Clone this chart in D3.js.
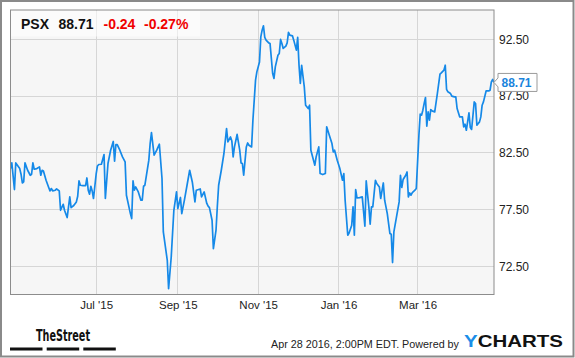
<!DOCTYPE html>
<html><head><meta charset="utf-8">
<script src="https://cdn.jsdelivr.net/npm/d3@7"></script>
<style>html,body{margin:0;padding:0;background:#fff;}svg{display:block;}</style>
</head><body>
<script>
const symbol = "PSX";
const lastPrice = "88.71";
const change = "-0.24";
const changePct = "-0.27%";
const timestamp = "Apr 28 2016, 2:00PM EDT.  Powered by";

const dates = [
"2015-04-27","2015-04-28","2015-04-30","2015-05-01","2015-05-04","2015-05-05","2015-05-06","2015-05-07","2015-05-08","2015-05-10",
"2015-05-12","2015-05-13","2015-05-14","2015-05-15","2015-05-17","2015-05-19","2015-05-20","2015-05-21","2015-05-22","2015-05-24",
"2015-05-26","2015-05-27","2015-05-28","2015-05-29","2015-05-31","2015-06-01","2015-06-03","2015-06-04","2015-06-06","2015-06-07",
"2015-06-09","2015-06-11","2015-06-12","2015-06-14","2015-06-16","2015-06-17","2015-06-18","2015-06-19","2015-06-21","2015-06-23",
"2015-06-24","2015-06-25","2015-06-26","2015-06-27","2015-06-28","2015-06-29","2015-07-01","2015-07-02","2015-07-03","2015-07-05",
"2015-07-07","2015-07-08","2015-07-10","2015-07-12","2015-07-14","2015-07-15","2015-07-16","2015-07-17","2015-07-19","2015-07-21",
"2015-07-23","2015-07-24","2015-07-27","2015-07-28","2015-07-29","2015-07-30","2015-07-31","2015-08-02","2015-08-04","2015-08-05",
"2015-08-06","2015-08-07","2015-08-10","2015-08-11","2015-08-12","2015-08-14","2015-08-16","2015-08-18","2015-08-20","2015-08-21",
"2015-08-24","2015-08-25","2015-08-27","2015-08-29","2015-08-31","2015-09-01","2015-09-03","2015-09-04","2015-09-06","2015-09-08",
"2015-09-10","2015-09-12","2015-09-14","2015-09-15","2015-09-18","2015-09-19","2015-09-21","2015-09-23","2015-09-24","2015-09-25",
"2015-09-27","2015-09-28","2015-09-30","2015-10-01","2015-10-02","2015-10-04","2015-10-06","2015-10-08","2015-10-09","2015-10-11",
"2015-10-12","2015-10-13","2015-10-14","2015-10-16","2015-10-18","2015-10-19","2015-10-20","2015-10-21","2015-10-23","2015-10-24",
"2015-10-25","2015-10-27","2015-10-28","2015-10-30","2015-10-31","2015-11-02","2015-11-03","2015-11-04","2015-11-05","2015-11-06",
"2015-11-07","2015-11-09","2015-11-10","2015-11-12","2015-11-13","2015-11-14","2015-11-16","2015-11-17","2015-11-18","2015-11-19",
"2015-11-20","2015-11-22","2015-11-23","2015-11-24","2015-11-25","2015-11-27","2015-11-28","2015-11-30","2015-12-01","2015-12-02",
"2015-12-03","2015-12-04","2015-12-06","2015-12-07","2015-12-09","2015-12-10","2015-12-11","2015-12-13","2015-12-14","2015-12-15",
"2015-12-17","2015-12-18","2015-12-20","2015-12-22","2015-12-23","2015-12-25","2015-12-27","2015-12-28","2015-12-29","2015-12-31",
"2016-01-02","2016-01-04","2016-01-05","2016-01-06","2016-01-08","2016-01-09","2016-01-11","2016-01-12","2016-01-13","2016-01-14",
"2016-01-15","2016-01-17","2016-01-19","2016-01-21","2016-01-22","2016-01-24","2016-01-25","2016-01-26","2016-01-27","2016-01-29",
"2016-01-30","2016-02-01","2016-02-02","2016-02-04","2016-02-05","2016-02-07","2016-02-09","2016-02-10","2016-02-11","2016-02-12",
"2016-02-14","2016-02-16","2016-02-17","2016-02-18","2016-02-19","2016-02-21","2016-02-22","2016-02-23","2016-02-24","2016-02-25",
"2016-02-26","2016-02-28","2016-02-29","2016-03-02","2016-03-03","2016-03-04","2016-03-05","2016-03-06","2016-03-07","2016-03-08",
"2016-03-09","2016-03-10","2016-03-11","2016-03-12","2016-03-14","2016-03-16","2016-03-18","2016-03-19","2016-03-21","2016-03-22",
"2016-03-23","2016-03-24","2016-03-26","2016-03-27","2016-03-29","2016-03-30","2016-03-31","2016-04-02","2016-04-04","2016-04-05",
"2016-04-06","2016-04-07","2016-04-09","2016-04-10","2016-04-11","2016-04-13","2016-04-14","2016-04-15","2016-04-17","2016-04-18",
"2016-04-19","2016-04-20","2016-04-22","2016-04-24","2016-04-25","2016-04-26","2016-04-27","2016-04-28"
];
const prices = [
81.11,81.61,79.26,81.61,81.11,80.61,79.84,79.93,81.61,80.96,
80.52,80.61,81.61,81.05,81.11,81.26,80.52,80.96,80.90,80.08,
79.44,79.14,79.35,79.14,79.20,79.31,79.14,77.43,77.96,77.43,
76.79,78.61,77.67,77.85,78.17,78.67,80.02,79.64,79.61,79.61,
80.28,79.20,78.85,79.55,79.14,78.47,80.61,81.34,81.47,81.49,
82.35,78.47,81.56,82.73,83.50,81.76,83.23,83.23,82.73,82.14,
81.70,78.76,77.14,76.70,80.02,79.20,79.49,79.05,78.32,78.32,
79.55,79.64,81.85,83.32,84.29,82.29,82.73,83.26,80.23,75.52,
73.02,70.52,73.31,77.43,79.05,77.58,78.56,77.14,78.32,79.64,
80.96,79.93,78.17,79.20,79.31,78.61,79.05,78.03,77.79,77.67,
76.55,74.05,75.67,77.79,79.64,80.96,82.44,84.64,83.46,83.90,
83.55,82.14,83.02,84.12,82.73,81.61,81.56,80.52,83.02,83.37,
83.17,83.02,85.38,88.91,89.64,90.52,92.73,93.32,93.70,92.68,
92.44,92.20,92.15,89.50,89.06,90.08,91.11,91.26,92.50,92.15,
91.71,91.91,92.20,93.12,92.88,92.82,92.44,91.56,92.68,90.23,
88.62,90.21,88.32,86.70,86.41,86.70,82.73,81.85,81.41,82.14,
83.02,80.67,80.58,80.67,84.79,84.05,83.32,82.58,82.73,81.85,
81.11,80.08,80.67,78.32,75.23,75.43,76.11,77.73,75.23,79.26,
78.52,78.55,78.61,76.02,80.02,77.73,76.20,77.73,77.73,80.08,
79.79,79.49,78.47,79.84,78.32,77.14,75.38,75.32,72.82,75.52,
76.84,78.17,80.52,79.44,80.14,80.52,80.81,78.61,78.96,78.76,
78.99,79.20,79.35,84.05,85.91,85.82,86.26,86.85,87.38,84.85,
86.11,85.38,86.32,86.20,86.11,87.73,89.44,89.55,89.79,90.23,
88.09,87.88,87.73,87.50,87.43,87.43,86.41,85.67,85.67,84.79,
85.02,84.49,86.02,84.73,84.56,86.99,86.85,84.94,85.23,85.67,
86.70,86.99,87.96,87.96,88.02,88.76,88.97,88.71
];
const xTickDates = ["2015-07-01","2015-09-01","2015-11-01","2016-01-01","2016-03-01"];
const xTickLabels = ["Jul '15","Sep '15","Nov '15","Jan '16","Mar '16"];
const yTicks = [72.5, 77.5, 82.5, 87.5, 92.5];

const W = 575, H = 358;
const plot = {l: 10.5, r: 494, t: 10, b: 294.5};
const parse = d3.timeParse("%Y-%m-%d");
const data = dates.map((d, i) => ({date: parse(d), v: prices[i]}));

const x = d3.scaleTime().domain([parse("2015-04-27"), parse("2016-04-28")]).range([plot.l, plot.r]);
const y = d3.scaleLinear().domain([70, 95.1]).range([plot.b, plot.t]);

const svg = d3.select("body").append("svg").attr("width", W).attr("height", H)
  .style("font-family", "'Liberation Sans', Arial, sans-serif");

svg.append("rect").attr("width", W).attr("height", H).attr("fill", "#fff");
svg.append("rect").attr("x", 1).attr("y", 1).attr("width", W - 2.5).attr("height", H - 2.5)
  .attr("fill", "none").attr("stroke", "#8a8a8a").attr("stroke-width", 2);

svg.append("rect").attr("x", plot.l).attr("y", plot.t).attr("width", plot.r - plot.l).attr("height", plot.b - plot.t)
  .attr("fill", "#f6f6f6");

// grid
const grid = svg.append("g").attr("stroke", "#d6d6d6").attr("stroke-width", 1).attr("shape-rendering", "crispEdges");
grid.selectAll("line.h").data(yTicks).join("line").attr("class", "h")
  .attr("x1", plot.l).attr("x2", plot.r).attr("y1", d => y(d)).attr("y2", d => y(d));
grid.selectAll("line.v").data(xTickDates).join("line").attr("class", "v")
  .attr("y1", plot.t).attr("y2", plot.b).attr("x1", d => x(parse(d))).attr("x2", d => x(parse(d)));

// header box
svg.append("rect").attr("x", plot.l + 0.5).attr("y", plot.t + 0.5).attr("width", 189).attr("height", 26)
  .attr("fill", "#fff").attr("opacity", 0.55);

// line
svg.append("clipPath").attr("id", "clip").append("rect")
  .attr("x", plot.l).attr("y", plot.t).attr("width", plot.r - plot.l).attr("height", plot.b - plot.t);
svg.append("path").datum(data).attr("clip-path", "url(#clip)")
  .attr("fill", "none").attr("stroke", "#1589e8").attr("stroke-width", 1.7).attr("stroke-linejoin", "round")
  .attr("d", d3.line().x(d => x(d.date)).y(d => y(d.v)));

// plot frame
svg.append("rect").attr("x", plot.l).attr("y", plot.t).attr("width", plot.r - plot.l).attr("height", plot.b - plot.t)
  .attr("fill", "none").attr("stroke", "#8c8c8c").attr("stroke-width", 1);

// y axis
const yAxis = svg.append("g").attr("transform", `translate(${plot.r + 5},0)`)
  .call(d3.axisRight(y).tickValues(yTicks).tickFormat(d3.format(".2f")).tickSize(0).tickPadding(0));
yAxis.select(".domain").remove();
yAxis.selectAll("text").attr("font-size", 12).attr("fill", "#222").attr("font-family", "'Liberation Sans', Arial, sans-serif");

// x axis
const xAxis = svg.append("g").attr("transform", `translate(0,${plot.b})`)
  .call(d3.axisBottom(x).tickValues(xTickDates.map(parse)).tickFormat((d, i) => xTickLabels[i]).tickSize(0).tickPadding(6));
xAxis.select(".domain").remove();
xAxis.selectAll("text").attr("font-size", 11.5).attr("fill", "#222").attr("font-family", "'Liberation Sans', Arial, sans-serif");

// header
const hdr = svg.append("text").attr("y", 28.7).attr("font-size", 14).attr("font-weight", "bold");
svg.append("text").attr("x", 21).attr("y", 28.7).attr("font-size", 14).attr("font-weight", "bold").attr("fill", "#111").text(symbol);
svg.append("text").attr("x", 58.5).attr("y", 28.7).attr("font-size", 14).attr("font-weight", "bold").attr("fill", "#111").text(lastPrice);
svg.append("text").attr("x", 103.5).attr("y", 28.7).attr("font-size", 14).attr("font-weight", "bold").attr("fill", "#f00000").text(change);
svg.append("text").attr("x", 144).attr("y", 28.7).attr("font-size", 14).attr("font-weight", "bold").attr("fill", "#f00000").text(changePct);
hdr.remove();

// last price tag
const last = data[data.length - 1];
const lx = x(last.date), ly = y(last.v);
svg.append("path")
  .attr("d", `M${lx},${ly} L${lx + 4},${ly - 4.5} L${lx + 4},${ly - 9} L${lx + 43},${ly - 9} L${lx + 43},${ly + 9} L${lx + 4},${ly + 9} L${lx + 4},${ly + 4.5} Z`)
  .attr("fill", "#fff").attr("stroke", "#9a9a9a").attr("stroke-width", 1);
svg.append("text").attr("x", lx + 7.5).attr("y", ly + 4.5).attr("font-size", 12).attr("font-weight", "bold")
  .attr("fill", "#1a84dc").text(d3.format(".2f")(last.v));

// footer: TheStreet
svg.append("text").attr("x", 36).attr("y", 341).attr("font-size", 16).attr("font-weight", "bold")
  .attr("font-family", "'Liberation Sans Narrow', 'DejaVu Sans Condensed', sans-serif")
  .attr("textLength", 54).attr("lengthAdjust", "spacingAndGlyphs").attr("fill", "#111").text("TheStreet");
svg.append("g").attr("fill", "#111").selectAll("rect").data([10, 46.7, 83.3]).join("rect")
  .attr("x", d => d).attr("y", 347.5).attr("width", 32.5).attr("height", 3);

// footer: timestamp + YCHARTS
svg.append("text").attr("x", 271).attr("y", 348).attr("font-size", 11).attr("fill", "#222")
  .attr("textLength", 188).attr("lengthAdjust", "spacingAndGlyphs").text(timestamp);
const yc = svg.append("text").attr("x", 464).attr("y", 347).attr("font-size", 16.5).attr("font-weight", "bold")
  .attr("textLength", 99).attr("lengthAdjust", "spacingAndGlyphs");
yc.append("tspan").attr("fill", "#1a8ee8").text("Y");
yc.append("tspan").attr("fill", "#111").text("CHARTS");
</script>
</body></html>
